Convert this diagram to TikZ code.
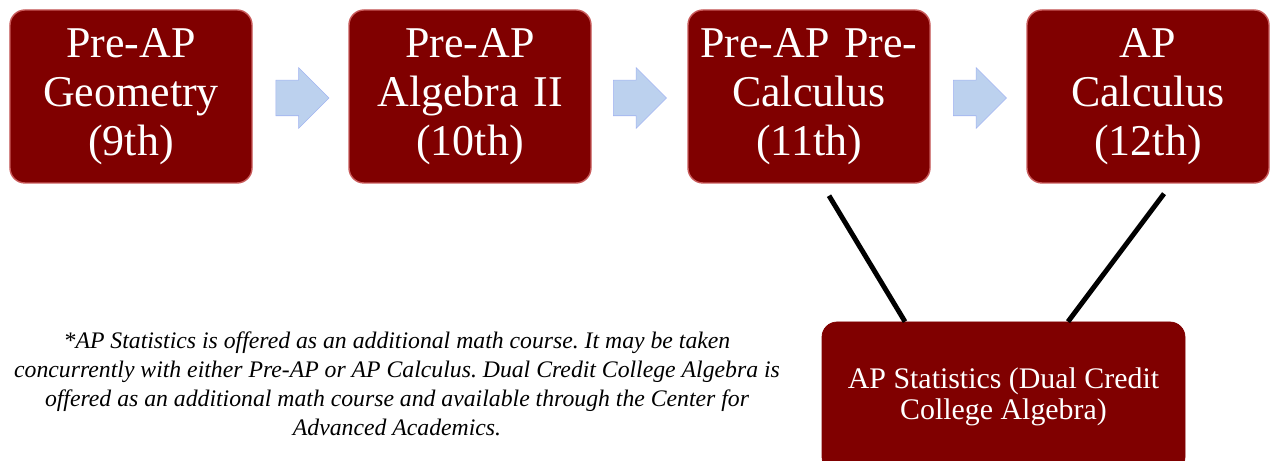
\documentclass[tikz,border=0pt]{standalone}
\usepackage{fontspec}
\setmainfont{Liberation Serif}
\usepackage{tikz}
\usetikzlibrary{shapes.arrows}
\definecolor{coursered}{RGB}{128,0,0}
\definecolor{edgered}{RGB}{200,90,90}
\definecolor{stepblue}{RGB}{188,209,238}

\begin{document}
\begin{tikzpicture}[node distance=6.78cm]
\useasboundingbox (0,0) rectangle (25.4,-9.22);
\clip (0,0) rectangle (25.4,-9.22);
\tikzset{
  coursebox/.style={draw=edgered, line width=0.8pt, rounded corners=0.3cm, fill=coursered, text=white,
    minimum width=4.84cm, minimum height=3.46cm, text width=4.4cm, align=center,
    font=\fontsize{25}{28}\selectfont},
  nextarrow/.style={single arrow, fill=stepblue, draw=stepblue!85!blue, line width=0.3pt,
    inner xsep=0pt, inner ysep=0.35cm, minimum height=1.06cm, minimum width=1.2cm,
    single arrow head extend=0.25cm}
}
\node[coursebox] (geometry) at (2.62,-1.93) {Pre-AP\\Geometry\\(9th)};
\node[coursebox, right of=geometry] (algebra) {Pre-AP\\Algebra II\\(10th)};
\node[coursebox, right of=algebra] (precalc) {Pre-AP Pre-\\Calculus\\(11th)};
\node[coursebox, right of=precalc] (calc) {AP\\Calculus\\(12th)};
% chevron arrows between the course boxes
\node[nextarrow] (step1) at (5.87,-1.96) {};
\node[nextarrow] (step2) at (12.62,-1.96) {};
\node[nextarrow] (step3) at (19.42,-1.96) {};
% statistics box and note
\node[draw=coursered, rounded corners=0.3cm, fill=coursered, text=white, minimum width=7.26cm,
  minimum height=3.0cm, align=center, font=\fontsize{17}{17.5}\selectfont] (stats) at (20.07,-7.94)
  {AP Statistics (Dual Credit\\College Algebra)};
\draw[line width=2.8pt] ([xshift=0.4cm,yshift=-0.24cm]precalc.south) -- ([xshift=-1.97cm]stats.north);
\draw[line width=2.8pt] ([xshift=0.32cm,yshift=-0.2cm]calc.south) -- ([xshift=1.29cm]stats.north);
\node[align=center, font=\itshape\fontsize{13.5}{16.4}\selectfont\frenchspacing] (note) at (7.94,-7.68)
  {*AP Statistics is offered as an additional math course. It may be taken\\
   concurrently with either Pre-AP or AP Calculus. Dual Credit College Algebra is\\
   offered as an additional math course and available through the Center for\\
   Advanced Academics.};
\end{tikzpicture}
\end{document}
